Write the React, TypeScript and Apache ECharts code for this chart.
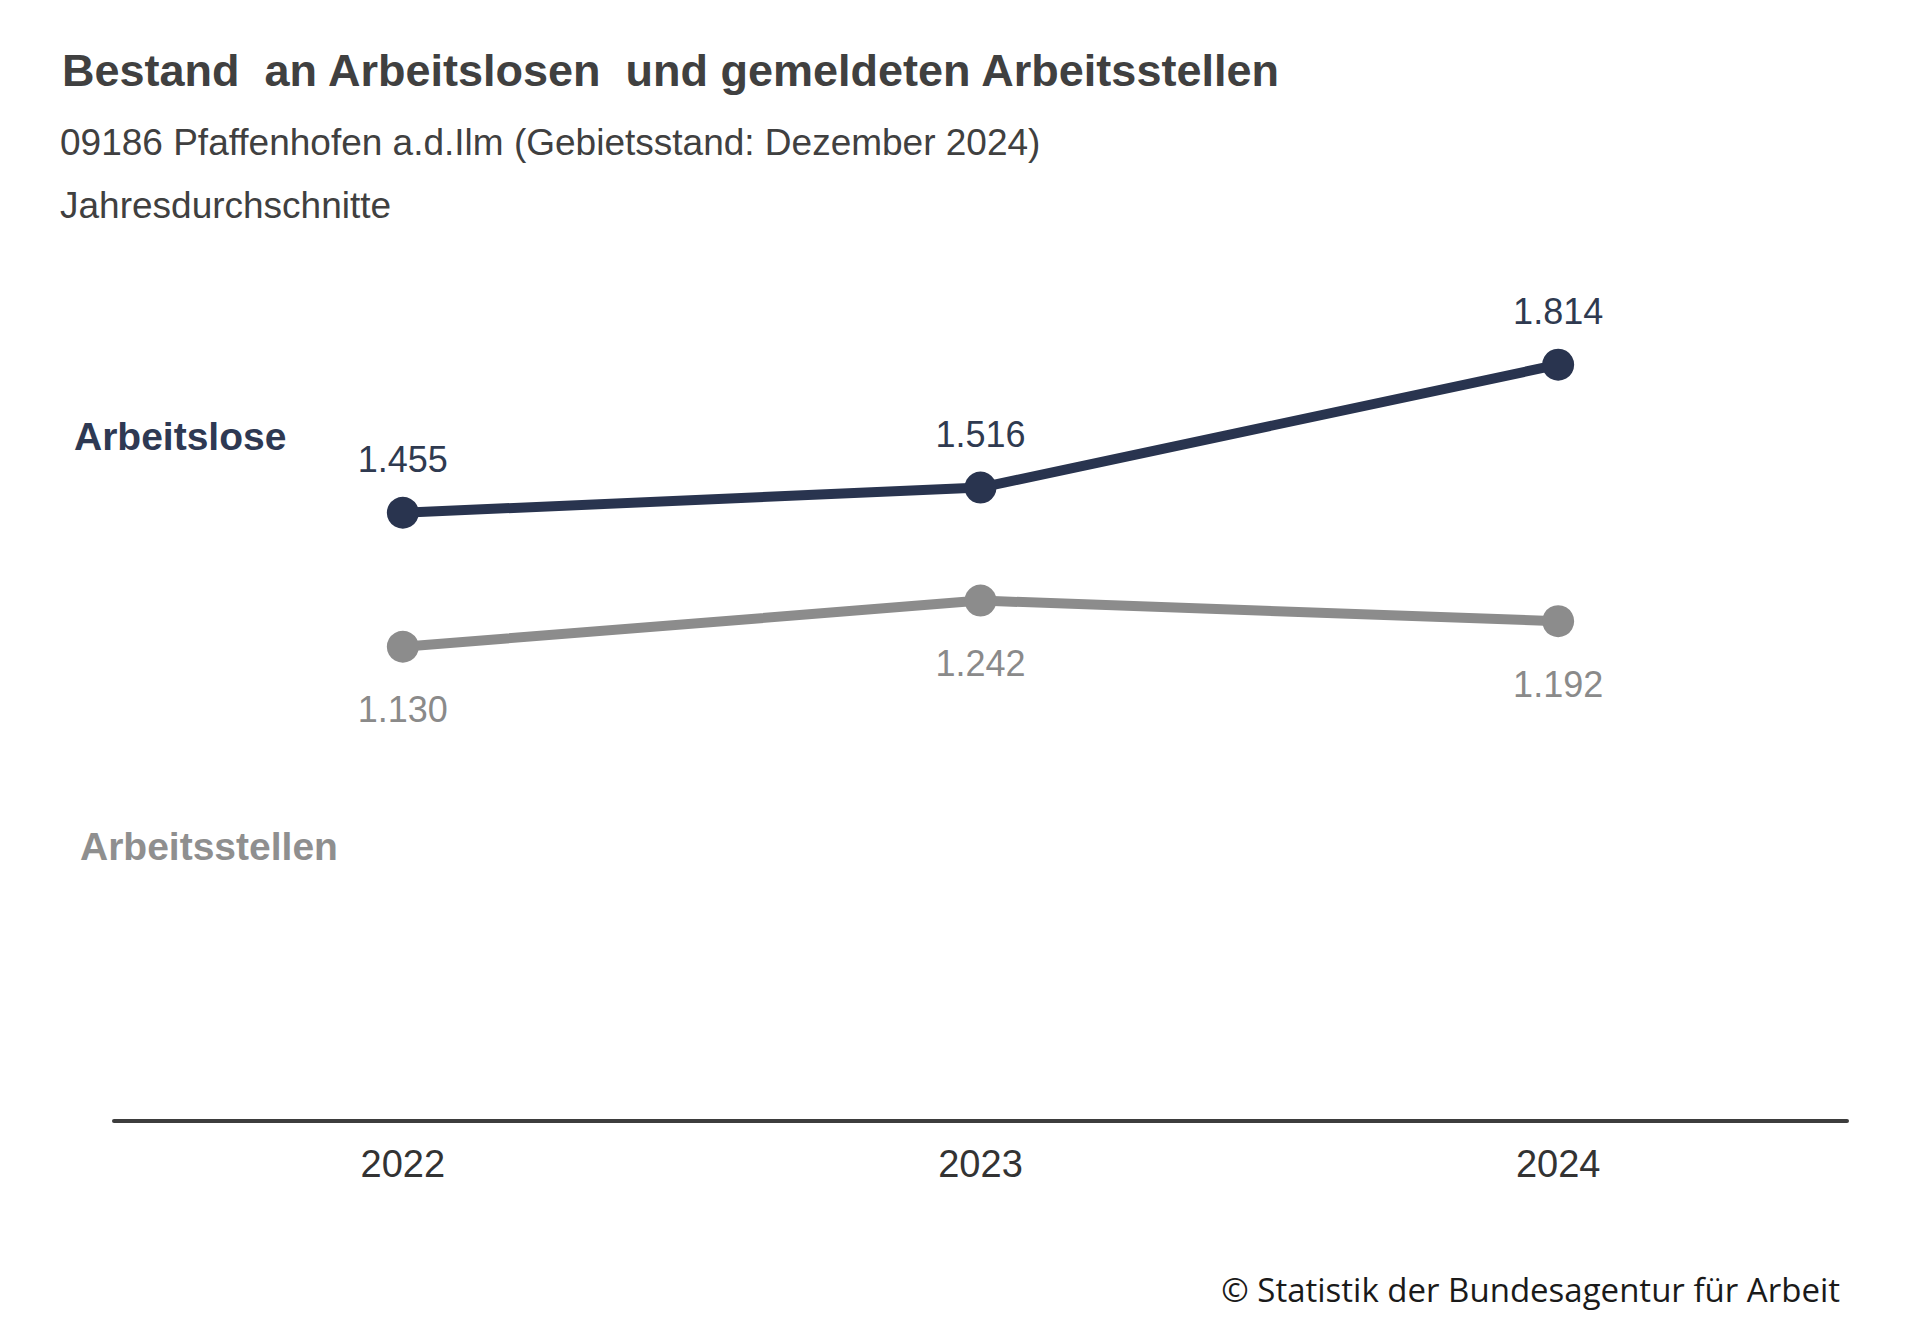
import React, { useEffect, useRef } from "react";
import * as echarts from "echarts";

const categories = ["2022", "2023", "2024"];
const arbeitslose = [1455, 1516, 1814];
const arbeitsstellen = [1130, 1242, 1192];

const titleText = "Bestand  an Arbeitslosen  und gemeldeten Arbeitsstellen";
const subtitleText = "09186 Pfaffenhofen a.d.Ilm (Gebietsstand: Dezember 2024)";
const noteText = "Jahresdurchschnitte";
const nameArbeitslose = "Arbeitslose";
const nameArbeitsstellen = "Arbeitsstellen";
const sourceText = "© Statistik der Bundesagentur für Arbeit";

const NAVY = "#29344f";
const GRAY = "#8c8c8c";
const FONT = "'Liberation Sans', Arial, sans-serif";

const fmt = (v: number) => String(v).replace(/\B(?=(\d{3})+(?!\d))/g, ".");

function txt(x: number, y: number, text: string, size: number, fill: string, weight: string = "normal", align: string = "left", family: string = FONT) {
  return {
    type: "text",
    x,
    y,
    silent: true,
    style: {
      text,
      fill,
      fontSize: size,
      fontWeight: weight,
      fontFamily: family,
      textAlign: align,
      align,
      textVerticalAlign: "middle",
      verticalAlign: "middle",
    },
  };
}

export default function App() {
  const ref = useRef<HTMLDivElement>(null);
  useEffect(() => {
    if (!ref.current) return;
    const chart = echarts.init(ref.current, undefined, { renderer: "svg" });
    chart.setOption({
      animation: false,
      backgroundColor: "#ffffff",
      grid: { left: 114, right: 73, top: 288, bottom: 204 },
      xAxis: {
        type: "category",
        data: categories,
        boundaryGap: true,
        axisLine: { show: true, onZero: false, lineStyle: { color: "#3d3d3d", width: 4 } },
        axisTick: { show: false },
        axisLabel: { color: "#333333", fontSize: 38, fontFamily: FONT, margin: 24 },
        splitLine: { show: false },
      },
      yAxis: {
        type: "value",
        min: -20,
        max: 2000,
        show: false,
        splitLine: { show: false },
      },
      series: [
        {
          name: nameArbeitslose,
          type: "line",
          data: arbeitslose,
          symbol: "circle",
          symbolSize: 32,
          lineStyle: { color: NAVY, width: 10 },
          itemStyle: { color: NAVY },
          label: {
            show: true,
            position: "top",
            distance: 19,
            color: "#2f3a50",
            fontSize: 36,
            fontFamily: FONT,
            formatter: (p: any) => fmt(p.value),
          },
        },
        {
          name: nameArbeitsstellen,
          type: "line",
          data: arbeitsstellen,
          symbol: "circle",
          symbolSize: 32,
          lineStyle: { color: GRAY, width: 10 },
          itemStyle: { color: GRAY },
          label: {
            show: true,
            position: "bottom",
            distance: 29,
            color: "#8a8a8a",
            fontSize: 36,
            fontFamily: FONT,
            formatter: (p: any) => fmt(p.value),
          },
        },
      ],
      graphic: [
        txt(62, 70, titleText, 45, "#404040", "bold"),
        txt(60, 142, subtitleText, 37, "#404040"),
        txt(60, 205, noteText, 37, "#404040"),
        txt(74, 436, nameArbeitslose, 39, "#2e3953", "bold"),
        txt(80, 846, nameArbeitsstellen, 39, "#8f8f8f", "bold"),
        txt(1840, 1289, sourceText, 33, "#1a1a1a", "normal", "right", "'Open Sans', 'Noto Sans', sans-serif"),
      ],
    });
    return () => chart.dispose();
  }, []);
  return (
    <div
      ref={ref}
      style={{ position: "absolute", left: 0, top: 0, width: "1920px", height: "1325px", background: "#fff" }}
    />
  );
}
